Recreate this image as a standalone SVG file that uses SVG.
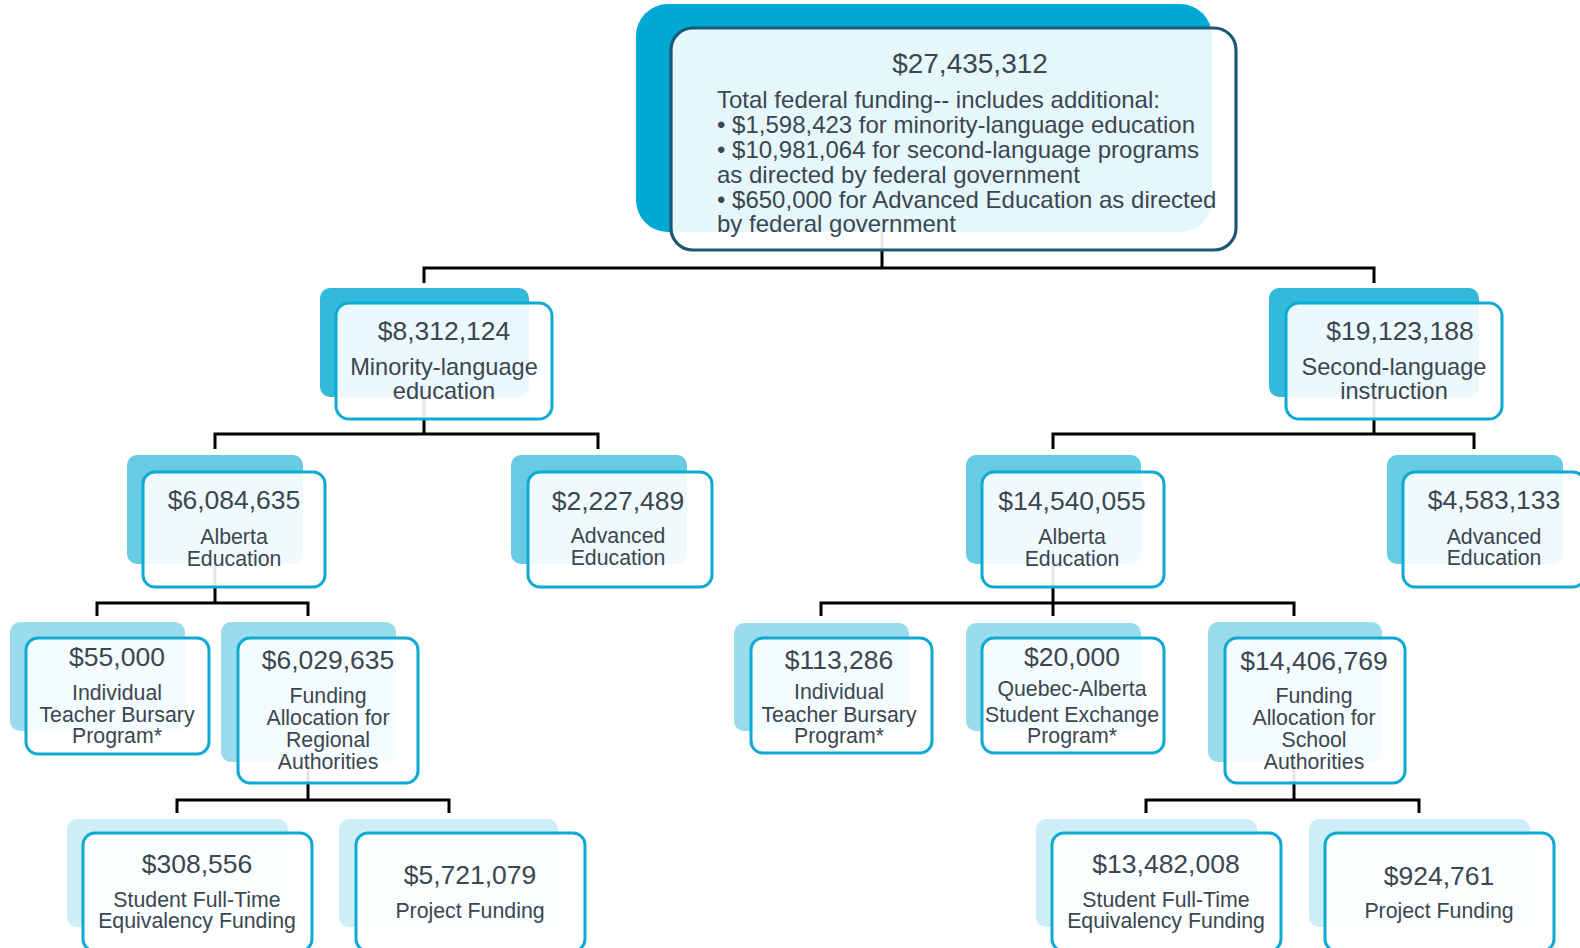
<svg xmlns="http://www.w3.org/2000/svg" width="1580" height="948" viewBox="0 0 1580 948">
<style>
.b0{fill:#00A9D4}.b2{fill:#33B9DA}.b3{fill:#66CBE3}.b4{fill:#9ADCEC}.b5{fill:#CDEEF6}
.f{fill:#fff;fill-opacity:.9;stroke:#0DAAD3;stroke-width:3}
.f0{fill:#fff;fill-opacity:.9;stroke:#1B5877;stroke-width:3.2}
text{font-family:"Liberation Sans",Arial,sans-serif;fill:#3B4650}
.a{font-size:26.5px;text-anchor:middle}
.t{font-size:28px;text-anchor:middle}
.l{font-size:21.3px;text-anchor:middle}
.m{font-size:23.6px;text-anchor:middle}
.body{font-size:24px}
.c{stroke:#000;stroke-width:3;fill:none}
</style>
<rect width="1580" height="948" fill="#fff"/>
<g id="connectors">
<path class="c" d="M882,232 V268 M424,283 V268 H1374 V283"/>
<path class="c" d="M424,397 V434 M215,449 V434 H598 V449"/>
<path class="c" d="M1374,397 V434 M1053,449 V434 H1474 V449"/>
<path class="c" d="M215,564 V603 M97,616 V603 H308 V616"/>
<path class="c" d="M1053,564 V616 M821,616 V603 H1294 V616"/>
<path class="c" d="M308,762 V800 M177,813 V800 H449 V813"/>
<path class="c" d="M1294,762 V800 M1146,813 V800 H1419 V813"/>
</g>
<g id="total">
<rect class="b0" x="636" y="4" width="576" height="228" rx="32"/>
<rect class="f0" x="671" y="28" width="565" height="222" rx="22"/>
<text class="t" x="970" y="73">$27,435,312</text>
<text class="body" x="717" y="108">Total federal funding-- includes additional:</text>
<text class="body" x="717" y="133">• $1,598,423 for minority-language education</text>
<text class="body" x="717" y="158">• $10,981,064 for second-language programs</text>
<text class="body" x="717" y="183">as directed by federal government</text>
<text class="body" x="717" y="208">• $650,000 for Advanced Education as directed</text>
<text class="body" x="717" y="232">by federal government</text>
</g>
<g id="minority">
<rect class="b2" x="320" y="288" width="209" height="109" rx="10"/>
<rect class="f" x="336" y="303" width="216" height="116" rx="13"/>
<text class="a" x="444" y="340">$8,312,124</text>
<text class="m" x="444" y="375">Minority-language</text>
<text class="m" x="444" y="399">education</text>
</g>
<g id="second">
<rect class="b2" x="1269" y="288" width="210" height="109" rx="10"/>
<rect class="f" x="1286" y="303" width="216" height="116" rx="13"/>
<text class="a" x="1400" y="340">$19,123,188</text>
<text class="m" x="1394" y="375">Second-language</text>
<text class="m" x="1394" y="399">instruction</text>
</g>
<g id="ab-ed-minority">
<rect class="b3" x="127" y="455" width="176" height="109" rx="10"/>
<rect class="f" x="143" y="472" width="182" height="115" rx="12"/>
<text class="a" x="234" y="509">$6,084,635</text>
<text class="l" x="234" y="544">Alberta</text>
<text class="l" x="234" y="566">Education</text>
</g>
<g id="adv-ed-minority">
<rect class="b3" x="511" y="455" width="176" height="109" rx="10"/>
<rect class="f" x="528" y="472" width="184" height="115" rx="12"/>
<text class="a" x="618" y="510">$2,227,489</text>
<text class="l" x="618" y="543">Advanced</text>
<text class="l" x="618" y="565">Education</text>
</g>
<g id="ab-ed-second">
<rect class="b3" x="966" y="455" width="175" height="109" rx="10"/>
<rect class="f" x="982" y="472" width="182" height="115" rx="12"/>
<text class="a" x="1072" y="510">$14,540,055</text>
<text class="l" x="1072" y="544">Alberta</text>
<text class="l" x="1072" y="566">Education</text>
</g>
<g id="adv-ed-second">
<rect class="b3" x="1387" y="455" width="176" height="109" rx="10"/>
<rect class="f" x="1403" y="472" width="182" height="115" rx="12"/>
<text class="a" x="1494" y="509">$4,583,133</text>
<text class="l" x="1494" y="544">Advanced</text>
<text class="l" x="1494" y="565">Education</text>
</g>
<g id="bursary-minority">
<rect class="b4" x="10" y="622" width="175" height="109" rx="10"/>
<rect class="f" x="26" y="638" width="183" height="116" rx="12"/>
<text class="a" x="117" y="666">$55,000</text>
<text class="l" x="117" y="700">Individual</text>
<text class="l" x="117" y="721.5">Teacher Bursary</text>
<text class="l" x="117" y="743">Program*</text>
</g>
<g id="regional">
<rect class="b4" x="221" y="622" width="175" height="140" rx="10"/>
<rect class="f" x="238" y="638" width="180" height="145" rx="12"/>
<text class="a" x="328" y="669">$6,029,635</text>
<text class="l" x="328" y="703">Funding</text>
<text class="l" x="328" y="725">Allocation for</text>
<text class="l" x="328" y="747">Regional</text>
<text class="l" x="328" y="769">Authorities</text>
</g>
<g id="bursary-second">
<rect class="b4" x="734" y="623" width="175" height="108" rx="10"/>
<rect class="f" x="751" y="638" width="181" height="115" rx="12"/>
<text class="a" x="839" y="669">$113,286</text>
<text class="l" x="839" y="699">Individual</text>
<text class="l" x="839" y="721.5">Teacher Bursary</text>
<text class="l" x="839" y="743">Program*</text>
</g>
<g id="exchange">
<rect class="b4" x="966" y="623" width="175" height="108" rx="10"/>
<rect class="f" x="982" y="638" width="182" height="115" rx="12"/>
<text class="a" x="1072" y="666">$20,000</text>
<text class="l" x="1072" y="696">Quebec-Alberta</text>
<text class="l" x="1072" y="721.5">Student Exchange</text>
<text class="l" x="1072" y="743">Program*</text>
</g>
<g id="school">
<rect class="b4" x="1208" y="622" width="174" height="140" rx="10"/>
<rect class="f" x="1225" y="638" width="180" height="145" rx="12"/>
<text class="a" x="1314" y="670">$14,406,769</text>
<text class="l" x="1314" y="703">Funding</text>
<text class="l" x="1314" y="725">Allocation for</text>
<text class="l" x="1314" y="747">School</text>
<text class="l" x="1314" y="769">Authorities</text>
</g>
<g id="fte-minority">
<rect class="b5" x="67" y="819" width="221" height="108" rx="10"/>
<rect class="f" x="83" y="833" width="229" height="118" rx="12"/>
<text class="a" x="197" y="873">$308,556</text>
<text class="l" x="197" y="907">Student Full-Time</text>
<text class="l" x="197" y="928">Equivalency Funding</text>
</g>
<g id="project-minority">
<rect class="b5" x="339" y="819" width="219" height="108" rx="10"/>
<rect class="f" x="356" y="833" width="229" height="118" rx="12"/>
<text class="a" x="470" y="884">$5,721,079</text>
<text class="l" x="470" y="918">Project Funding</text>
</g>
<g id="fte-second">
<rect class="b5" x="1036" y="819" width="221" height="108" rx="10"/>
<rect class="f" x="1052" y="833" width="229" height="118" rx="12"/>
<text class="a" x="1166" y="873">$13,482,008</text>
<text class="l" x="1166" y="907">Student Full-Time</text>
<text class="l" x="1166" y="928">Equivalency Funding</text>
</g>
<g id="project-second">
<rect class="b5" x="1309" y="819" width="221" height="108" rx="10"/>
<rect class="f" x="1325" y="833" width="229" height="118" rx="12"/>
<text class="a" x="1439" y="885">$924,761</text>
<text class="l" x="1439" y="918">Project Funding</text>
</g>
</svg>
